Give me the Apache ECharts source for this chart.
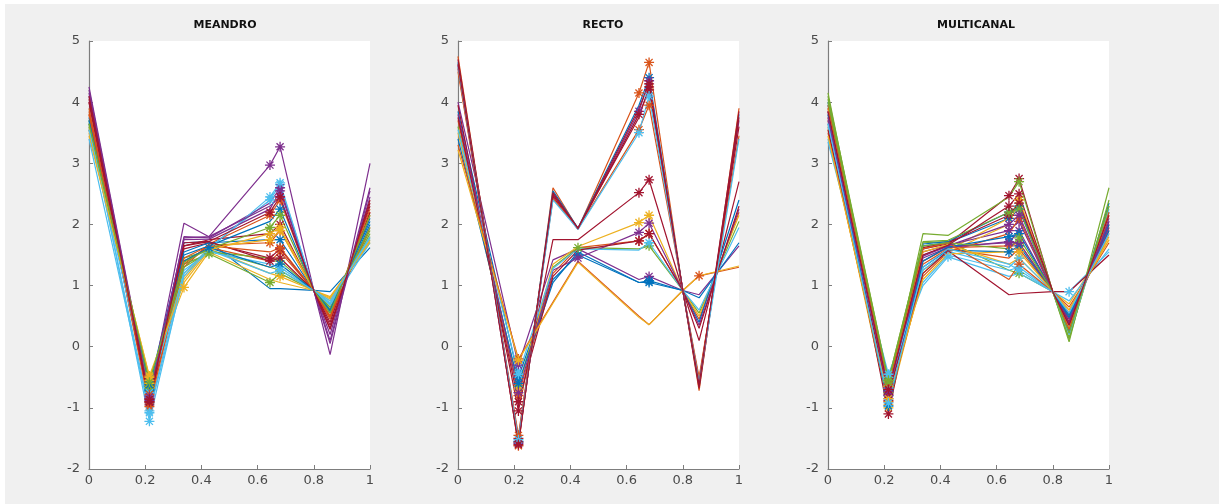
<!DOCTYPE html>
<html>
<head>
<meta charset="utf-8">
<script src="https://cdn.jsdelivr.net/npm/echarts@6/dist/echarts.min.js"></script>
<style>
html,body{margin:0;padding:0;background:#ffffff;}
#bg{position:absolute;left:5px;top:4px;width:1214px;height:500px;background:#f0f0f0;}
#chart{position:absolute;left:0;top:0;width:1227px;height:504px;}
</style>
</head>
<body>
<div id="bg"></div>
<div id="chart"></div>
<script>
// ---------- DATA ----------
const X = [0, 0.215, 0.338, 0.427, 0.644, 0.68, 0.80, 0.858, 1.0];
const titles = ['MEANDRO', 'RECTO', 'MULTICANAL'];
const xTicks = [0, 0.2, 0.4, 0.6, 0.8, 1];
const yTicks = [-2, -1, 0, 1, 2, 3, 4, 5];

const meandro = [
  [3.55, -0.65, 1.70, 1.72, 0.95, 0.95, 0.92, 0.90, 1.62],
  [3.80, -0.90, 1.30, 1.68, 2.15, 2.40, 0.92, 0.45, 2.20],
  [3.50, -0.50, 0.97, 1.55, 1.10, 1.05, 0.92, 0.82, 1.70],
  [4.25, -0.80, 2.02, 1.80, 2.97, 3.27, 0.92, -0.13, 3.00],
  [3.60, -0.60, 1.35, 1.52, 1.05, 1.20, 0.92, 0.60, 1.90],
  [3.70, -1.22, 1.20, 1.62, 2.40, 2.65, 0.92, 0.70, 1.75],
  [4.00, -0.95, 1.65, 1.75, 1.85, 2.00, 0.92, 0.40, 2.30],
  [3.65, -0.70, 1.50, 1.65, 2.05, 2.25, 0.92, 0.55, 2.10],
  [3.85, -0.85, 1.40, 1.62, 1.40, 1.55, 0.92, 0.50, 1.95],
  [3.55, -0.55, 1.10, 1.60, 1.20, 1.15, 0.92, 0.78, 1.80],
  [4.15, -0.88, 1.80, 1.78, 2.35, 2.60, 0.92, 0.10, 2.60],
  [3.70, -0.65, 1.45, 1.58, 1.30, 1.25, 0.92, 0.65, 1.85],
  [3.60, -1.05, 1.25, 1.55, 1.35, 1.30, 0.92, 0.72, 1.80],
  [4.05, -0.92, 1.60, 1.70, 1.45, 1.60, 0.92, 0.35, 2.20],
  [3.75, -0.72, 1.55, 1.70, 1.75, 1.75, 0.92, 0.58, 2.00],
  [3.90, -0.98, 1.35, 1.66, 1.70, 1.90, 0.92, 0.48, 2.15],
  [3.60, -0.60, 1.15, 1.62, 1.75, 1.90, 0.92, 0.75, 1.75],
  [4.10, -0.85, 1.75, 1.76, 2.25, 2.55, 0.92, 0.20, 2.45],
  [3.65, -0.68, 1.30, 1.55, 1.45, 1.40, 0.92, 0.62, 1.95],
  [3.55, -0.75, 1.20, 1.60, 2.45, 2.68, 0.92, 0.68, 1.70],
  [4.00, -0.90, 1.70, 1.72, 1.40, 1.45, 0.92, 0.30, 2.35],
  [3.70, -0.62, 1.40, 1.62, 1.30, 1.35, 0.92, 0.60, 2.05],
  [3.80, -0.78, 1.45, 1.65, 1.55, 1.62, 0.92, 0.50, 2.25],
  [3.45, -0.48, 1.05, 1.58, 1.85, 1.95, 0.92, 0.80, 1.72],
  [4.20, -0.82, 1.78, 1.80, 2.30, 2.45, 0.92, 0.05, 2.55],
  [3.65, -0.58, 1.38, 1.60, 1.95, 2.15, 0.92, 0.55, 2.15],
  [3.40, -1.08, 1.15, 1.58, 1.20, 1.25, 0.92, 0.75, 1.78],
  [4.10, -0.86, 1.65, 1.72, 2.20, 2.45, 0.92, 0.28, 2.40]
];
const meandroMarks = [
  [1], [1,4,5], [1,2], [1,4,5], [1,3,4,5], [1,4,5], [1,4,5], [1,5], [1,5], [1,5],
  [1,5], [1,5], [1,5], [1,4,5], [1,5], [1,4,5], [1,4,5], [1,5], [1,5], [1,4,5],
  [1,4,5], [1,3,5], [1,5], [1,4,5], [1,5], [1,4,5], [1,5], [1,4,5]
];

const recto = [
  [4.00, -0.30, 1.42, 1.60, 1.10, 1.15, 0.92, 0.85, 1.65],
  [3.85, -0.50, 1.10, 1.50, 1.05, 1.05, 0.92, 0.80, 1.70],
  [3.60, -0.65, 1.30, 1.62, 1.60, 1.65, 0.92, 0.55, 2.05],
  [3.70, -0.80, 1.20, 1.62, 1.73, 1.85, 0.92, 0.45, 2.20],
  [3.50, -0.70, 1.35, 1.64, 2.03, 2.15, 0.92, 0.50, 2.15],
  [3.95, -1.05, 1.75, 1.75, 2.52, 2.73, 0.92, 0.10, 2.70],
  [3.40, -0.60, 1.05, 1.55, 1.05, 1.08, 0.92, 0.40, 2.40],
  [3.80, -0.75, 1.25, 1.45, 1.87, 2.02, 0.92, 0.35, 2.25],
  [3.55, -0.45, 1.28, 1.60, 1.58, 1.70, 0.92, 0.60, 1.95],
  [3.75, -0.90, 1.15, 1.58, 1.73, 1.85, 0.92, 0.30, 2.30],
  [3.30, -0.20, 0.73, 1.40, 0.50, 0.36, 0.92, 1.16, 1.30],
  [3.22, -0.22, 0.71, 1.38, 0.48, 0.36, 0.92, 1.16, 1.32],
  [4.75, -1.62, 2.60, 1.93, 4.15, 4.65, 0.92, -0.72, 3.90],
  [4.65, -1.55, 2.55, 1.94, 3.95, 4.40, 0.92, -0.65, 3.80],
  [4.60, -1.58, 2.50, 1.93, 3.85, 4.35, 0.92, -0.60, 3.70],
  [4.55, -1.50, 2.45, 1.92, 3.80, 4.20, 0.92, -0.55, 3.60],
  [4.50, -1.45, 2.42, 1.93, 3.55, 3.95, 0.92, -0.50, 3.45],
  [4.70, -1.56, 2.48, 1.94, 3.75, 4.25, 0.92, -0.68, 3.75],
  [4.58, -1.52, 2.40, 1.92, 3.50, 4.10, 0.92, -0.58, 3.40],
  [4.62, -1.60, 2.52, 1.93, 3.90, 4.30, 0.92, -0.62, 3.85]
];
const rectoMarks = [
  [1,5], [1,3,5], [1,3,5], [1,4,5], [1,4,5], [1,4,5], [1,5], [1,3,4,5], [1,5], [1,4,5],
  [1,7], [1],
  [1,4,5], [1,5], [1,4,5], [1,4,5], [1,4,5], [1,5], [1,4,5], [1,5]
];
const rectoColors = [3,0,4,1,2,6,0,3,5,6, 1,2, 1,0,3,6,1,6,5,6];

const multicanal = [
  [3.95, -0.80, 1.65, 1.70, 2.10, 2.25, 0.90, 0.30, 2.20],
  [3.70, -0.65, 1.40, 1.62, 1.65, 1.70, 0.90, 0.50, 1.95],
  [3.55, -1.00, 1.20, 1.58, 2.10, 2.40, 0.90, 0.60, 1.80],
  [3.85, -0.75, 1.55, 1.66, 1.90, 2.05, 0.90, 0.40, 2.05],
  [4.10, -0.55, 1.70, 1.72, 1.25, 1.20, 0.90, 0.15, 2.30],
  [3.35, -0.45, 1.00, 1.47, 1.15, 1.20, 0.90, 0.90, 1.55],
  [3.90, -1.10, 1.60, 1.68, 2.47, 2.75, 0.90, 0.45, 1.90],
  [4.00, -0.85, 1.68, 1.72, 2.20, 2.30, 0.90, 0.25, 2.35],
  [3.75, -0.70, 1.35, 1.60, 1.45, 1.60, 0.90, 0.55, 1.85],
  [3.60, -0.95, 1.25, 1.55, 2.00, 2.40, 0.90, 0.70, 1.75],
  [3.80, -0.60, 1.50, 1.64, 1.70, 1.90, 0.90, 0.35, 2.10],
  [4.15, -0.75, 1.85, 1.82, 2.45, 2.70, 0.90, 0.08, 2.60],
  [3.40, -0.50, 1.05, 1.50, 1.25, 1.30, 0.90, 0.75, 1.60],
  [3.85, -0.88, 1.62, 1.70, 2.15, 2.35, 0.90, 0.40, 2.00],
  [3.65, -0.72, 1.30, 1.58, 1.55, 1.65, 0.90, 0.52, 1.90],
  [3.50, -0.90, 1.15, 1.55, 1.85, 2.10, 0.90, 0.65, 1.70],
  [3.90, -0.65, 1.55, 1.67, 1.35, 1.45, 0.90, 0.30, 2.15],
  [3.70, -0.80, 1.45, 1.62, 1.72, 1.70, 0.90, 0.45, 1.95],
  [4.05, -0.55, 1.72, 1.74, 2.20, 2.25, 0.90, 0.12, 2.40],
  [3.60, -0.68, 1.25, 1.56, 1.30, 1.45, 0.90, 0.20, 2.25],
  [3.55, -0.78, 1.20, 1.57, 0.85, 0.87, 0.90, 0.90, 1.50],
  [3.80, -0.97, 1.40, 1.63, 1.80, 1.85, 0.90, 0.48, 2.00],
  [3.95, -0.62, 1.60, 1.70, 1.10, 1.35, 0.90, 0.28, 2.20],
  [3.45, -0.85, 1.10, 1.52, 1.55, 1.55, 0.90, 0.60, 1.75],
  [3.75, -0.73, 1.48, 1.65, 2.00, 2.15, 0.90, 0.38, 2.05],
  [4.00, -0.58, 1.65, 1.70, 1.60, 1.78, 0.90, 0.22, 2.30],
  [3.65, -0.92, 1.30, 1.60, 1.35, 1.25, 0.90, 0.55, 1.85],
  [3.85, -0.70, 1.50, 1.66, 2.30, 2.50, 0.90, 0.35, 2.15]
];
const multicanalMarks = [
  [1,4,5], [1,4,5], [1,5], [1,4,5], [1,5], [1,3,7], [1,4,5], [1,4,5], [1,5], [1,5],
  [1,4,5], [1,5], [1,5], [1,4,5], [1,4,5], [1,5], [1,5], [1,4,5], [1,4,5], [1,5],
  [1], [1,4,5], [1,5], [1,5], [1,4,5], [1,5], [1,5], [1,4,5]
];

// ---------- STYLE / LAYOUT ----------
const C = ['#0072BD','#D95319','#EDB120','#7E2F8E','#77AC30','#4DBEEE','#A2142F'];
const STAR = 'path://M0 -10 L0 10 M-10 0 L10 0 M-7.07 -7.07 L7.07 7.07 M-7.07 7.07 L7.07 -7.07';
const lefts = [89, 458, 828];
const titleX = [225, 603, 976];
const gridW = 281, gridTop = 41, gridH = 428;
const axisCol = '#7d7d7d';
const labelCol = '#4a4a4a';
const fontFam = '"DejaVu Sans", "Liberation Sans", Arial, sans-serif';

const panels = [
  {lines: meandro, marks: meandroMarks, colors: null},
  {lines: recto, marks: rectoMarks, colors: rectoColors},
  {lines: multicanal, marks: multicanalMarks, colors: null}
];

const grid = [], xAxis = [], yAxis = [], series = [], graphic = [];
panels.forEach((p, k) => {
  grid.push({left: lefts[k], top: gridTop, width: gridW, height: gridH,
    show: true, backgroundColor: '#ffffff', borderWidth: 0, containLabel: false});
  xAxis.push({type: 'value', gridIndex: k, min: 0, max: 1, interval: 0.2,
    axisLine: {show: true, onZero: false, lineStyle: {color: axisCol, width: 1.2}},
    axisTick: {show: true, inside: true, length: 4, lineStyle: {color: axisCol}},
    splitLine: {show: false},
    axisLabel: {color: labelCol, fontSize: 13, fontFamily: fontFam, margin: 5,
      formatter: v => xTicks.includes(Math.round(v * 10) / 10) ? String(Math.round(v * 10) / 10) : ''}
  });
  yAxis.push({type: 'value', gridIndex: k, min: -2, max: 5, interval: 1,
    axisLine: {show: true, onZero: false, lineStyle: {color: axisCol, width: 1.2}},
    axisTick: {show: true, inside: true, length: 4, lineStyle: {color: axisCol}},
    splitLine: {show: false},
    axisLabel: {color: labelCol, fontSize: 13, fontFamily: fontFam, margin: 9,
      formatter: v => yTicks.includes(v) ? String(v) : ''}
  });
  p.lines.forEach((ys, i) => {
    const col = C[p.colors ? p.colors[i] : i % 7];
    const mk = p.marks[i] || [];
    series.push({
      type: 'line', xAxisIndex: k, yAxisIndex: k,
      data: X.map((x, j) => ({value: [x, ys[j]], symbol: mk.includes(j) ? STAR : 'none'})),
      symbolSize: 10, showSymbol: true, showAllSymbol: true,
      lineStyle: {width: 1.2, color: col},
      itemStyle: {color: 'rgba(0,0,0,0)', borderColor: col, borderWidth: 1.3},
      animation: false, silent: true
    });
  });
  graphic.push({type: 'text', x: titleX[k], y: 25, z: 100,
    style: {text: titles[k], fill: '#111', font: 'bold 11px ' + fontFam,
      align: 'center', verticalAlign: 'middle', textAlign: 'center', textVerticalAlign: 'middle'}});
});

const chart = echarts.init(document.getElementById('chart'), null, {renderer: 'canvas'});
chart.setOption({
  backgroundColor: 'transparent',
  animation: false,
  grid, xAxis, yAxis, series, graphic
});
</script>
</body>
</html>
